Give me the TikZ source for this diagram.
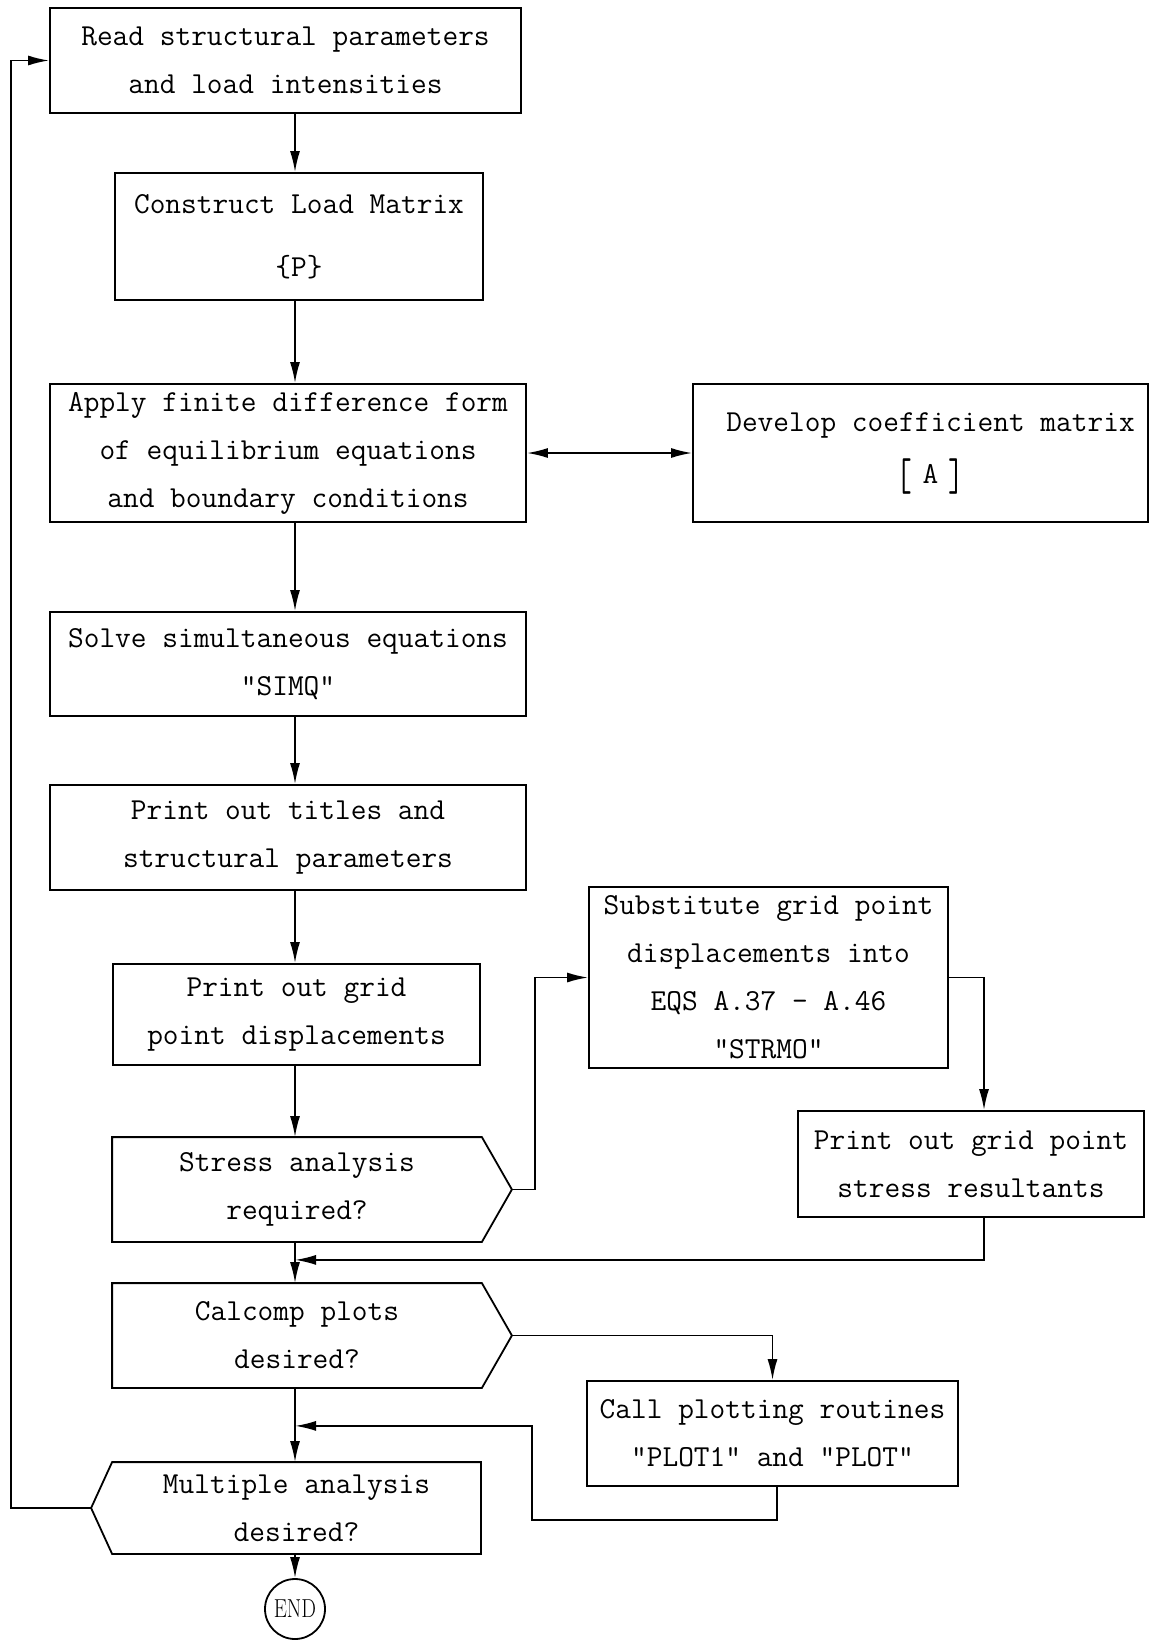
\documentclass[tikz,border=0pt]{standalone}
\usepackage{tikz}
\usepackage{graphicx}
\usetikzlibrary{arrows.meta,positioning}

\newcommand{\tallbr}[1]{\raisebox{-7pt}{\scalebox{1}[1.5]{#1}}}

\begin{document}
\begin{tikzpicture}[x=1pt,y=-1pt,
	box/.style={draw, line width=1.8pt, inner sep=0pt, align=center, font=\fontsize{30.5}{48}\selectfont\ttfamily},
	query/.style={box, draw=none},
	line/.style={line width=1.8pt},
	flow/.style={line, -{Latex[length=21pt,width=10pt]}}]
	\useasboundingbox (0,0) rectangle (1151,1640);
	\coordinate (spine) at (295,0);
	
	\node[box, minimum width=471pt, minimum height=105pt] (read) at (285.5,60.5) {Read structural parameters\\and load intensities};
	\node[box, minimum width=368pt, minimum height=127pt] (load) at (299,236.5) {Construct Load Matrix\\[15pt]\{P\}};
	\node[box, minimum width=476pt, minimum height=138pt] (apply) at (288,453) {Apply finite difference form\\of equilibrium equations\\and boundary conditions};
	\node[box, minimum width=455pt, minimum height=138pt] (coeff) at (920.5,453) {\hspace*{20pt}Develop coefficient matrix\\[4pt]\hspace*{20pt}\tallbr{[}\hspace{10pt}A\hspace{10pt}\tallbr{]}};
	\node[box, minimum width=476pt, minimum height=104pt] (solve) at (288,664) {Solve simultaneous equations\\"SIMQ"};
	\node[box, minimum width=476pt, minimum height=105pt] (titles) at (288,837.5) {Print out titles and\\structural parameters};
	\node[box, minimum width=367pt, minimum height=101pt] (grid) at (296.5,1014.5) {Print out grid\\point displacements};
	\node[query, minimum width=368pt, minimum height=103pt] (stress) at (297,1189.5) {Stress analysis\\required?};
	\coordinate[right=30pt of stress.east] (stress tip);
	\node[box, minimum width=359pt, minimum height=181pt] (subst) at (768.5,977.5) {Substitute grid point\\displacements into\\EQS A.37 - A.46\\"STRMO"};
	\node[box, minimum width=346pt, minimum height=106pt] (stressres) at (971,1164) {Print out grid point\\stress resultants};
	\node[query, minimum width=368pt, minimum height=103pt] (calcomp) at (297,1335.5) {Calcomp plots\\desired?};
	\coordinate[right=30pt of calcomp.east] (calcomp tip);
	\node[box, minimum width=371pt, minimum height=105pt] (plot) at (772.5,1433.5) {Call plotting routines\\"PLOT1" and "PLOT"};
	\node[query, minimum width=367pt, minimum height=90pt] (multi) at (296.5,1508) {Multiple analysis\\desired?};
	\coordinate[left=21pt of multi.west] (multi tip);
	\node[draw, line width=1.8pt, circle, minimum size=60pt, inner sep=0pt, font=\fontsize{26}{26}\selectfont] (end) at (295,1609) {\scalebox{0.8}[1]{END}};
	
	\draw[line] (stress.north west) -- (stress.north east) -- (stress tip) -- (stress.south east) -- (stress.south west) -- cycle;
	\draw[line] (calcomp.north west) -- (calcomp.north east) -- (calcomp tip) -- (calcomp.south east) -- (calcomp.south west) -- cycle;
	\draw[line] (multi.north east) -- (multi.north west) -- (multi tip) -- (multi.south west) -- (multi.south east) -- cycle;
	
	\draw[flow] (read.south -| spine) -- (load.north -| spine);
	\draw[flow] (load.south -| spine) -- (apply.north -| spine);
	\draw[line, {Latex[length=21pt,width=10pt]}-{Latex[length=21pt,width=10pt]}] (apply.east) -- (coeff.west);
	\draw[flow] (apply.south -| spine) -- (solve.north -| spine);
	\draw[flow] (solve.south -| spine) -- (titles.north -| spine);
	\draw[flow] (titles.south -| spine) -- (grid.north -| spine);
	\draw[flow] (grid.south -| spine) -- (stress.north -| spine);
	\draw[flow] (stress tip) -- ++(23,0) |- (subst.west);
	\draw[flow] (subst.east) -| ([xshift=13pt]stressres.north);
	\draw[flow] ([xshift=13pt]stressres.south) |- ([yshift=-18pt]stress.south -| spine);
	\draw[flow] (stress.south -| spine) -- (calcomp.north -| spine);
	\draw[flow] (calcomp tip) -| (plot.north);
	\draw[flow] ([xshift=4.5pt]plot.south) |- ++(-245,33) |- ([yshift=-38pt]calcomp.south -| spine);
	\draw[flow] (calcomp.south -| spine) -- (multi.north -| spine);
	\draw[flow] (multi.south -| spine) -- (end);
	\draw[flow] (multi tip) -- ++(-80,0) |- (read.west);
\end{tikzpicture}
\end{document}
